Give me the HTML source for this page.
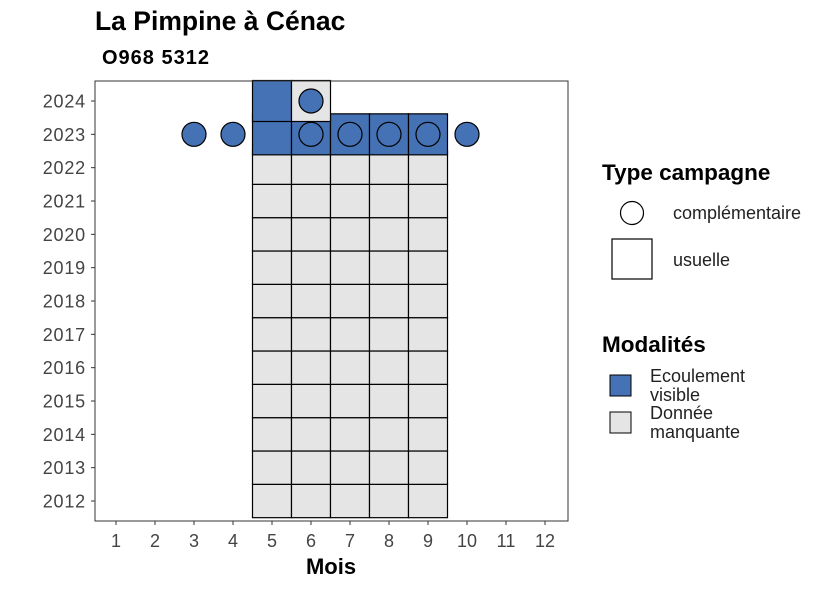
<!DOCTYPE html>
<html><head><meta charset="utf-8"><style>
body{margin:0;background:#fff;font-family:"Liberation Sans",sans-serif}
svg text{font-family:"Liberation Sans",sans-serif}
</style></head><body>
<svg id="chart" width="826" height="590" xmlns="http://www.w3.org/2000/svg">
<text x="95" y="30" font-size="26.5" font-weight="bold" fill="#000">La Pimpine à Cénac</text>
<text x="102" y="64" font-size="20" font-weight="bold" fill="#000" letter-spacing="1">O968 5312</text>
<rect x="95" y="81" width="473" height="440" fill="#fff"/>
<g id="tiles"></g><g id="points"></g>
<rect x="95" y="81" width="473" height="440" fill="none" stroke="#333" stroke-width="1"/>
<g id="axes"></g>
<text x="331" y="574" font-size="22" font-weight="bold" text-anchor="middle">Mois</text>
<g>
<text x="602" y="180" font-size="22.5" font-weight="bold">Type campagne</text>
<circle cx="632" cy="213" r="11.5" fill="#fff" stroke="#000" stroke-width="1.2"/>
<text x="673" y="219" font-size="18" fill="#222">complémentaire</text>
<rect x="612" y="239" width="40" height="40" fill="#fff" stroke="#000" stroke-width="1.2"/>
<text x="673" y="266" font-size="18" fill="#222">usuelle</text>
</g>
<g>
<text x="602" y="352" font-size="22.5" font-weight="bold">Modalités</text>
<rect x="610" y="375" width="21" height="21" fill="#4472b4" stroke="#000"/>
<text x="650" y="382" font-size="18" fill="#222">Ecoulement</text>
<text x="650" y="401" font-size="18" fill="#222">visible</text>
<rect x="610" y="412" width="21" height="21" fill="#e5e5e5" stroke="#000"/>
<text x="650" y="419" font-size="18" fill="#222">Donnée</text>
<text x="650" y="438" font-size="18" fill="#222">manquante</text>
</g>
</svg>
<script>
const months=[1,2,3,4,5,6,7,8,9,10,11,12];
const years=[2012,2013,2014,2015,2016,2017,2018,2019,2020,2021,2022,2023,2024];
const tileMonths=[5,6,7,8,9,5,6,7,8,9,5,6,7,8,9,5,6,7,8,9,5,6,7,8,9,5,6,7,8,9,5,6,7,8,9,5,6,7,8,9,5,6,7,8,9,5,6,7,8,9,5,6,7,8,9,5,6,7,8,9,5,6];
const tileYears=[2012,2012,2012,2012,2012,2013,2013,2013,2013,2013,2014,2014,2014,2014,2014,2015,2015,2015,2015,2015,2016,2016,2016,2016,2016,2017,2017,2017,2017,2017,2018,2018,2018,2018,2018,2019,2019,2019,2019,2019,2020,2020,2020,2020,2020,2021,2021,2021,2021,2021,2022,2022,2022,2022,2022,2023,2023,2023,2023,2023,2024,2024];
const tileMod=["M","M","M","M","M","M","M","M","M","M","M","M","M","M","M","M","M","M","M","M","M","M","M","M","M","M","M","M","M","M","M","M","M","M","M","M","M","M","M","M","M","M","M","M","M","M","M","M","M","M","M","M","M","M","M","E","E","E","E","E","E","M"];
const pointMonths=[3,4,6,7,8,9,10,6];
const pointYears=[2023,2023,2023,2023,2023,2023,2023,2024];
const pointMod=["E","E","E","E","E","E","E","E"];
const NS="http://www.w3.org/2000/svg";
const xs=m=>116+(m-1)*39, ys=y=>501-(y-2012)*(400/12);
const bw=39, bh=400/12;
const col={E:"#4472b4",M:"#e5e5e5"};
function mk(t,a,p){const e=document.createElementNS(NS,t);for(const k in a)e.setAttribute(k,a[k]);p.appendChild(e);return e;}
const T=document.getElementById('tiles'),P=document.getElementById('points'),A=document.getElementById('axes');
tileMonths.forEach((m,i)=>{const y=tileYears[i];const h=y>=2023?41:bh;
const r=mk('rect',{x:xs(m)-bw/2,y:ys(y)-h/2,width:bw,height:h,fill:col[tileMod[i]],stroke:"#000","stroke-width":1.2},T);

});
pointMonths.forEach((m,i)=>{const c=mk('circle',{cx:xs(m),cy:ys(pointYears[i]),r:12,fill:col[pointMod[i]],stroke:"#000","stroke-width":1.2},P);

});
months.forEach(m=>{mk('line',{x1:xs(m),x2:xs(m),y1:521,y2:525,stroke:"#333"},A);
const t=mk('text',{x:xs(m),y:547,"font-size":18,fill:"#444","text-anchor":"middle"},A);t.textContent=m;

});
years.forEach(y=>{mk('line',{x1:91,x2:95,y1:ys(y),y2:ys(y),stroke:"#333"},A);
const t=mk('text',{x:86,y:ys(y)+6.5,"font-size":18,fill:"#444","text-anchor":"end","letter-spacing":0.8},A);t.textContent=y;

});
</script>
</body></html>
